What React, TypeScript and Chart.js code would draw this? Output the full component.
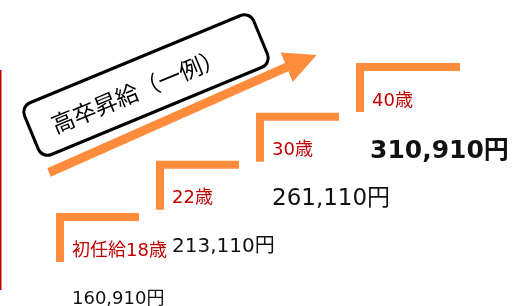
import { useEffect, useRef } from 'react';
import { Chart, registerables } from 'chart.js';

Chart.register(...registerables);

// ---- data ----
const stepLabels = ['初任給18歳', '22歳', '30歳', '40歳'];
const salaries = [160910, 213110, 261110, 310910];
const titleText = '高卒昇給（一例）';

// ---- styles ----
const ORANGE = '#FF8B3D';
const RED = '#C00000';
const INK = '#111111';
const STEP_RISE = 45000; // vertical leg of each step, in yen units of the y scale
const STEP_RUN = 0.79; // horizontal leg, in index units
const LAST_RUN = 1.0;
const valueFontSizes = [18, 20, 23, 25];

const overlayPlugin = {
  id: 'overlay',
  beforeDatasetsDraw(chart: any) {
    const ctx = chart.ctx as CanvasRenderingContext2D;
    ctx.save();
    // left red rule
    ctx.fillStyle = RED;
    ctx.fillRect(0, 70, 1.5, 220);

    // rising arrow
    const sx = 49, sy = 172.5; // shaft start
    const bx = 286.7, by = 67.2; // head base centre
    const tx = 316.7, ty = 55; // tip
    const ang = Math.atan2(ty - by, tx - bx);
    const px = -Math.sin(ang), py = Math.cos(ang);
    const hw = 4.5, hh = 16;
    ctx.fillStyle = ORANGE;
    ctx.beginPath();
    ctx.moveTo(sx + px * hw, sy + py * hw);
    ctx.lineTo(bx + px * hw, by + py * hw);
    ctx.lineTo(bx + px * hh, by + py * hh);
    ctx.lineTo(tx, ty);
    ctx.lineTo(bx - px * hh, by - py * hh);
    ctx.lineTo(bx - px * hw, by - py * hw);
    ctx.lineTo(sx - px * hw, sy - py * hw);
    ctx.closePath();
    ctx.fill();

    // rotated title box
    ctx.translate(146, 85);
    ctx.rotate((-22.5 * Math.PI) / 180);
    ctx.beginPath();
    (ctx as any).roundRect(-124, -28, 248, 56, 10);
    ctx.fillStyle = '#ffffff';
    ctx.fill();
    ctx.lineWidth = 3;
    ctx.strokeStyle = '#000000';
    ctx.stroke();
    ctx.fillStyle = '#000000';
    ctx.font = '23px "Noto Sans CJK JP"';
    ctx.textAlign = 'center';
    ctx.textBaseline = 'middle';
    ctx.fillText(titleText, -10, 2);
    ctx.restore();
  },
  afterDatasetsDraw(chart: any) {
    const ctx = chart.ctx as CanvasRenderingContext2D;
    const xs = chart.scales.x;
    const ys = chart.scales.y;
    ctx.save();
    ctx.textAlign = 'left';
    ctx.textBaseline = 'middle';
    salaries.forEach((s, i) => {
      const left = xs.getPixelForValue(i) - 4;
      const top = ys.getPixelForValue(s) - 4;
      ctx.fillStyle = RED;
      ctx.font = '18px "DejaVu Sans", "Noto Sans CJK JP"';
      ctx.fillText(stepLabels[i], left + 16, top + 38);
      const last = i === salaries.length - 1;
      ctx.fillStyle = INK;
      ctx.font = `${last ? 'bold ' : ''}${valueFontSizes[i]}px "DejaVu Sans", "Noto Sans CJK JP"`;
      ctx.fillText(s.toLocaleString('en-US') + '円', left + (last ? 14 : 16), top + (last ? 88 : 86));
    });
    ctx.restore();
  },
};

export default function App() {
  const ref = useRef<HTMLCanvasElement | null>(null);
  useEffect(() => {
    if (!ref.current) return;
    const datasets = salaries.map((s, i) => ({
      data: [
        { x: i, y: s - STEP_RISE },
        { x: i, y: s },
        { x: i + (i === salaries.length - 1 ? LAST_RUN : STEP_RUN), y: s },
      ],
      showLine: true,
      borderColor: ORANGE,
      borderWidth: 8,
      borderJoinStyle: 'miter' as const,
      borderCapStyle: 'butt' as const,
      pointRadius: 0,
      fill: false,
      tension: 0,
    }));
    const chart = new Chart(ref.current, {
      type: 'scatter',
      data: { datasets },
      options: {
        responsive: false,
        animation: false,
        events: [],
        layout: { padding: 0 },
        plugins: { legend: { display: false }, tooltip: { enabled: false }, title: { display: false } },
        scales: {
          x: { type: 'linear', display: false, min: -0.6, max: 4.53 },
          y: { type: 'linear', display: false, min: 71910, max: 377910 },
        },
      },
      plugins: [overlayPlugin],
    });
    return () => chart.destroy();
  }, []);
  return (
    <div style={{ position: 'absolute', left: 0, top: 0, width: 513, height: 306, background: '#fff' }}>
      <canvas ref={ref} width={513} height={306} style={{ display: 'block' }} />
    </div>
  );
}
